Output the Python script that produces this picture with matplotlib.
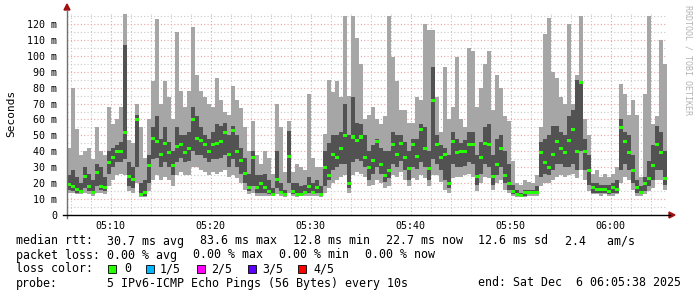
import matplotlib
matplotlib.use("Agg")
import matplotlib.pyplot as plt
import numpy as np
from matplotlib.patches import Polygon, Rectangle

# ---------------- data (ms), one value per 24 s step, start 05:05:38 ----------------
med = [19, 18, 16, 15, 24, 18, 14, 27, 18, 17, 33, 36, 40, 40, 52, 24, 22, 60, 13, 14,
       31, 48, 46, 38, 45,
       39, 31, 43, 44, 39, 42, 60, 48, 47, 44, 40, 44, 45, 46, 52, 38, 53, 40, 34, 26,
       17, 36, 17, 20, 17,
       15, 13, 22, 14, 13, 37, 15, 13, 13, 14, 18, 14, 17, 13, 30, 25, 38, 36, 42, 50,
       20, 49, 47, 49, 36,
       30, 34, 46, 32, 25, 28, 44, 38, 45, 36, 29, 44, 37, 54, 42, 29, 72, 44, 36, 38,
       20, 46, 39, 40, 40,
       44, 44, 24, 36, 45, 44, 24, 32, 42, 25, 20, 15, 13, 12, 14, 14, 14, 14, 39, 33,
       30, 38, 46, 42, 39,
       47, 54, 40, 83, 40, 28, 17, 16, 16, 16, 15, 17, 16, 55, 46, 39, 28, 17, 14, 20,
       23, 31, 44, 39, 23]
lo = [14, 14, 13, 13, 14, 13, 12, 14, 14, 13, 18, 22, 25, 26, 25, 15, 14, 20, 11, 11,
      15, 22, 25, 22, 24,
      22, 18, 25, 27, 25, 25, 30, 30, 28, 27, 25, 27, 26, 27, 28, 24, 25, 23, 20, 16,
      13, 14, 12, 12, 12,
      12, 12, 13, 12, 11, 14, 12, 11, 12, 12, 12, 12, 12, 11, 14, 17, 20, 22, 24, 25,
      14, 25, 27, 26, 24,
      18, 19, 22, 20, 17, 18, 25, 24, 27, 22, 18, 23, 22, 25, 23, 18, 25, 25, 21, 16,
      14, 23, 24, 24, 25,
      26, 24, 15, 20, 24, 23, 16, 20, 22, 16, 14, 12, 11, 11, 11, 12, 12, 12, 18, 20,
      20, 22, 24, 25, 24,
      25, 26, 23, 28, 22, 15, 13, 13, 12, 13, 12, 12, 13, 20, 24, 22, 16, 12, 12, 13,
      15, 17, 22, 22, 16]
q1 = [16, 15, 14, 14, 17, 15, 13, 18, 16, 15, 26, 30, 33, 33, 35, 18, 17, 30, 12, 12,
      20, 35, 36, 30, 33,
      30, 25, 33, 36, 33, 34, 40, 38, 38, 36, 33, 35, 35, 36, 38, 30, 35, 30, 26, 20,
      15, 18, 14, 14, 14,
      13, 12, 17, 13, 12, 20, 13, 12, 13, 13, 14, 13, 14, 12, 18, 22, 28, 30, 32, 32,
      17, 33, 35, 34, 30,
      22, 26, 30, 26, 21, 23, 32, 30, 34, 28, 22, 30, 29, 33, 30, 22, 35, 32, 28, 22,
      17, 32, 30, 30, 31,
      33, 32, 19, 26, 32, 30, 19, 25, 30, 20, 16, 13, 12, 12, 12, 13, 13, 13, 24, 26,
      25, 28, 32, 32, 30,
      30, 32, 28, 40, 28, 19, 14, 14, 14, 14, 13, 14, 14, 28, 32, 28, 20, 14, 13, 15,
      18, 22, 28, 28, 19]
q3 = [25, 28, 24, 20, 30, 26, 22, 32, 30, 24, 40, 42, 44, 46, 107, 33, 30, 63, 20, 22,
      38, 55, 62, 48, 55,
      46, 40, 55, 50, 50, 52, 68, 62, 55, 50, 48, 52, 57, 56, 58, 50, 56, 50, 42, 36,
      26, 40, 25, 25, 26,
      22, 17, 40, 20, 16, 53, 20, 20, 18, 19, 24, 20, 22, 18, 40, 45, 50, 50, 52, 70,
      50, 74, 58, 57, 50,
      40, 44, 48, 42, 40, 40, 52, 50, 50, 46, 40, 48, 48, 57, 55, 40, 93, 50, 44, 42,
      38, 52, 48, 45, 47,
      52, 52, 38, 46, 55, 57, 38, 48, 50, 40, 32, 19, 16, 14, 16, 16, 16, 18, 46, 48,
      50, 56, 56, 52, 50,
      62, 66, 85, 84, 48, 38, 20, 20, 19, 19, 19, 20, 22, 60, 52, 50, 38, 22, 18, 24,
      34, 44, 56, 52, 40]
hi = [42, 80, 54, 38, 40, 42, 35, 55, 40, 38, 68, 57, 60, 68, 126, 47, 45, 70, 55, 36,
      60, 84, 123, 70, 84,
      74, 60, 115, 78, 68, 78, 118, 88, 78, 74, 70, 68, 86, 72, 65, 63, 81, 72, 67, 55,
      40, 59, 38, 32, 40,
      36, 26, 70, 55, 27, 59, 27, 32, 30, 28, 76, 36, 30, 30, 51, 85, 77, 84, 74, 125,
      75, 125, 111, 95, 60,
      63, 68, 60, 57, 62, 125, 99, 84, 66, 66, 58, 58, 74, 72, 120, 116, 116, 74, 52, 93,
      60, 68, 99, 60, 55,
      105, 103, 68, 80, 95, 103, 66, 88, 80, 62, 59, 34, 20, 19, 22, 21, 20, 25, 55, 114,
      124, 90, 86, 74, 70,
      120, 70, 88, 125, 60, 50, 26, 28, 24, 26, 24, 26, 30, 82, 76, 63, 72, 63, 24, 76,
      125, 57, 62, 110, 95]

step_s = 24
y_ticks = [0, 10, 20, 30, 40, 50, 60, 70, 80, 90, 100, 110, 120]
y_labels = ["0", "10 m", "20 m", "30 m", "40 m", "50 m", "60 m", "70 m", "80 m",
            "90 m", "100 m", "110 m", "120 m"]
x_labels = ["05:10", "05:20", "05:30", "05:40", "05:50", "06:00"]
first_label_offset = 262  # seconds from 05:05:38 to 05:10:00

legend1 = [("median rtt:", 16), ("30.7 ms avg", 107), ("83.6 ms max", 200),
           ("12.8 ms min", 293), ("22.7 ms now", 386), ("12.6 ms sd", 478),
           ("2.4   am/s", 565)]
legend2 = [("packet loss:", 16), ("0.00 % avg", 107), ("0.00 % max", 193),
           ("0.00 % min", 279), ("0.00 % now", 365)]
loss_names = ["0", "1/5", "2/5", "3/5", "4/5"]
loss_colors = ["#26ff00", "#00b8ff", "#ff00ff", "#5e00ff", "#ff0000"]
loss_sq_x = [108, 146, 197, 248, 298]
loss_txt_x = [124, 160, 211, 262, 313]
legend4 = [("probe:", 16), ("5 IPv6-ICMP Echo Pings (56 Bytes) every 10s", 107),
           ("end: Sat Dec  6 06:05:38 2025", 478)]

# ---------------- figure ----------------
W, H = 697, 297
fig = plt.figure(figsize=(W / 100, H / 100), dpi=100)
fig.patch.set_facecolor("white")
MONO = "DejaVu Sans Mono"


def fx(px):
    return px / W


def fy(py):
    return 1 - py / H


L, R, T, B = 67, 667, 14, 215
ax = fig.add_axes([fx(L), fy(B), (R - L) / W, (B - T) / H])
ax.set_facecolor("white")
ymax = (B - T) / 1.5917
ax.set_xlim(0, 3600)
ax.set_ylim(0, ymax)
for s in ax.spines.values():
    s.set_visible(False)

# grid
minor_col = "#c8c8c8"
major_col = "#eaa5a5"
ls = (0, (1, 2))
for v in np.arange(5, ymax, 5):
    col = major_col if v % 10 == 0 else minor_col
    ax.axhline(v, color=col, lw=0.8, ls=ls, zorder=0.5)
for t in np.arange(22, 3600, 120):
    col = major_col if (t - first_label_offset) % 600 == 0 else minor_col
    ax.axvline(t, color=col, lw=0.8, ls=ls, zorder=0.5)

# smoke
n = len(med)
xe = np.arange(n + 1) * step_s


def ext(a):
    a = np.asarray(a, float)
    return np.append(a, a[-1])


ax.fill_between(xe, ext(lo), ext(hi), step="post", color="#a6a6a6", lw=0, zorder=2)
ax.fill_between(xe, ext(q1), ext(q3), step="post", color="#525252", lw=0, zorder=3)
band = 0.95
ax.fill_between(xe, ext(med) - band, ext(med) + band, step="post",
                color=loss_colors[0], lw=0, zorder=4)

# ticks
ax.set_yticks(y_ticks)
ax.set_yticklabels(y_labels, fontfamily=MONO, fontsize=7.2)
xt = [first_label_offset + 600 * k for k in range(len(x_labels))]
ax.set_xticks(xt)
ax.set_xticklabels(x_labels, fontfamily=MONO, fontsize=7.2)
ax.tick_params(axis="y", length=0, pad=7, colors="#000000")
ax.tick_params(axis="x", length=0, pad=4, colors="#000000")

# axes lines and arrows
fig.add_artist(plt.Line2D([fx(L), fx(L)], [fy(B + 3), fy(T - 4)], color="#707070", lw=1.0))
fig.add_artist(plt.Line2D([fx(L - 4), fx(R + 3)], [fy(B), fy(B)], color="#000000", lw=1.0))
arrow_col = "#a01010"
fig.add_artist(Polygon([[fx(L - 3), fy(T - 4)], [fx(L + 3), fy(T - 4)], [fx(L), fy(T - 10)]],
                       closed=True, color=arrow_col, transform=fig.transFigure))
fig.add_artist(Polygon([[fx(R + 2), fy(B - 3)], [fx(R + 2), fy(B + 3)], [fx(R + 8), fy(B)]],
                       closed=True, color=arrow_col, transform=fig.transFigure))

# labels
fig.text(fx(11), fy(113), "Seconds", rotation=90, fontfamily=MONO, fontsize=8,
         ha="center", va="center")
fig.text(fx(688), fy(60), "RRDTOOL / TOBI OETIKER", rotation=270, fontfamily=MONO,
         fontsize=6, color="#b4b4b4", ha="center", va="center")

# legend
fs = 8.4
for txt, x in legend1:
    fig.text(fx(x), fy(241), txt, fontfamily=MONO, fontsize=fs, ha="left", va="center")
for txt, x in legend2:
    fig.text(fx(x), fy(255), txt, fontfamily=MONO, fontsize=fs, ha="left", va="center")
fig.text(fx(16), fy(269), "loss color:", fontfamily=MONO, fontsize=fs, ha="left", va="center")
for name, col, sx, tx in zip(loss_names, loss_colors, loss_sq_x, loss_txt_x):
    fig.add_artist(Rectangle((fx(sx), fy(273)), 8 / W, 8 / H, facecolor=col,
                             edgecolor="#000000", lw=0.6, transform=fig.transFigure))
    fig.text(fx(tx), fy(269), name, fontfamily=MONO, fontsize=fs, ha="left", va="center")
for txt, x in legend4:
    fig.text(fx(x), fy(283), txt, fontfamily=MONO, fontsize=fs, ha="left", va="center")

fig.savefig("out.png", dpi=100, facecolor="white")
